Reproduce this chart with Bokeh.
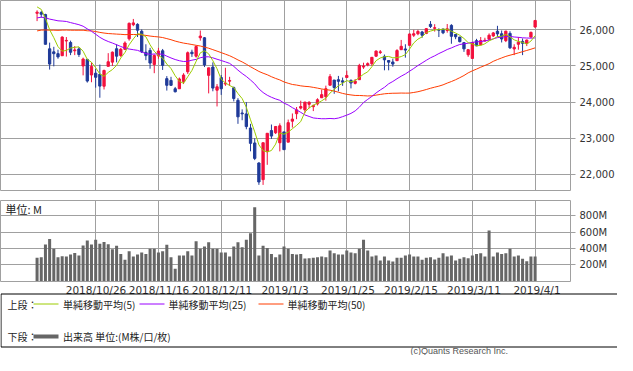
import numpy as np
from bokeh.plotting import figure
from bokeh.layouts import column
from bokeh.models import ColumnDataSource, Range1d, FixedTicker, NumeralTickFormatter, PrintfTickFormatter
from bokeh.core.properties import value
from bokeh.embed import file_html
from bokeh.resources import INLINE

# ---------------- data (daily candles, 2018/10/8 .. 2019/4/1) ----------------
opens = [26456, 26477, 26422, 25474, 25390, 25340, 25283, 25690, 25650, 25420,
         25470, 25000, 25180, 24750, 24800, 24770, 24440, 24990, 25106, 25476,
         25290, 25460, 25750, 26140, 26150, 25960, 25380, 25430, 25040, 25280,
         25420, 24650, 24600, 24370, 24370, 24570, 24840, 25380, 25270, 25780,
         25780, 24740, 24970, 24330, 24680, 24500, 24580, 24400, 24050, 23700,
         23675, 23285, 22871, 22317, 21857, 22629, 23213, 23153, 22877, 23177,
         22894, 23474, 23680, 23835, 23787, 23940, 23875, 23950, 24121, 24150,
         24467, 24611, 24620, 24590, 24680, 24600, 24520, 24620, 24970, 25025,
         25060, 25270, 25371, 25266, 25150, 25110, 25146, 25450, 25470, 25570,
         25850, 25890, 25940, 25900, 26150, 26040, 26010, 26020, 25980, 26122,
         25870, 25800, 25645, 25310, 25208, 25700, 25590, 25690, 25740, 25830,
         25960, 25890, 25700, 25900, 25470, 25600, 25680, 25620, 25800, 26076]
highs = [26539, 26522, 26443, 25645, 25530, 25450, 25820, 25800, 25700, 25550,
         25520, 25230, 25200, 25100, 24916, 25040, 24900, 25354, 25400, 25600,
         25500, 25680, 26200, 26300, 26180, 26010, 25600, 25500, 25320, 25500,
         25470, 24720, 24700, 24420, 24680, 24800, 25400, 25450, 25560, 25980,
         25800, 24950, 25100, 24500, 24750, 24950, 24700, 24430, 24110, 23800,
         24000, 23400, 23000, 22339, 22879, 23139, 23381, 23333, 23413, 23177,
         23518, 23687, 23865, 24040, 24002, 24025, 23928, 24107, 24348, 24456,
         24775, 24611, 24725, 24680, 24870, 24630, 24640, 25060, 25090, 25100,
         25240, 25430, 25440, 25316, 25160, 25200, 25465, 25720, 25600, 25900,
         26000, 26000, 25970, 26050, 26241, 26155, 26040, 26030, 26160, 26155,
         25880, 25800, 25650, 25460, 25660, 25750, 25800, 25780, 25900, 25940,
         26110, 25980, 25970, 25960, 25600, 25800, 25760, 25730, 25950, 26260]
lows = [26240, 26340, 25598, 24900, 24990, 25200, 25283, 25260, 25300, 25300,
        25250, 24740, 24540, 24550, 24400, 24122, 24350, 24990, 25000, 25100,
        25250, 25440, 25700, 26100, 25800, 25360, 25160, 24924, 24800, 25200,
        24890, 24320, 24450, 24270, 24370, 24500, 24780, 25250, 25230, 25700,
        24970, 24242, 24300, 23881, 24200, 24450, 24450, 24020, 23400, 23500,
        23250, 22640, 22397, 21713, 21712, 22267, 22982, 23118, 22638, 22686,
        22894, 23296, 23529, 23798, 23697, 23830, 23752, 23908, 24121, 24040,
        24467, 24231, 24300, 24450, 24680, 24380, 24490, 24620, 24920, 24990,
        25000, 25250, 25330, 24880, 24880, 24980, 25146, 25443, 25230, 25570,
        25800, 25850, 25780, 25880, 26050, 25950, 25800, 25880, 25920, 25614,
        25740, 25650, 25390, 25252, 25208, 25550, 25570, 25680, 25700, 25800,
        25800, 25650, 25660, 25470, 25300, 25450, 25300, 25550, 25780, 26060]
closes = [26487, 26431, 25599, 25053, 25340, 25251, 25798, 25707, 25379, 25444,
          25317, 25191, 24583, 24985, 24688, 24443, 24875, 25116, 25381, 25271,
          25462, 25635, 26180, 26191, 25989, 25387, 25286, 25080, 25289, 25413,
          25017, 24466, 24465, 24286, 24640, 24749, 25366, 25339, 25538, 25826,
          25027, 24948, 24389, 24423, 24370, 24527, 24597, 24101, 23593, 23676,
          23324, 22860, 22445, 21792, 22878, 23139, 23062, 23327, 23346, 22686,
          23433, 23531, 23787, 23879, 24002, 23996, 23910, 24066, 24207, 24370,
          24706, 24404, 24576, 24553, 24737, 24528, 24580, 25015, 25000, 25064,
          25239, 25412, 25390, 25170, 25106, 25053, 25426, 25543, 25439, 25883,
          25891, 25954, 25851, 26032, 26092, 26058, 25985, 25916, 26026, 25820,
          25807, 25673, 25473, 25450, 25651, 25555, 25703, 25710, 25849, 25914,
          25887, 25746, 25963, 25502, 25517, 25658, 25626, 25717, 25929, 26258]
volumes_m = [285, 292, 448, 517, 395, 292, 305, 300, 325, 345,
             313, 436, 497, 448, 505, 456, 478, 452, 390, 433,
             333, 260, 366, 300, 325, 350, 333, 395, 395, 350,
             366, 444, 292, 150, 313, 313, 366, 313, 489, 395,
             425, 476, 395, 395, 350, 350, 300, 425, 476, 415,
             507, 587, 905, 313, 433, 405, 333, 292, 325, 425,
             395, 333, 325, 333, 275, 280, 285, 292, 300, 292,
             374, 341, 325, 325, 374, 350, 341, 395, 505, 374,
             300, 313, 252, 300, 252, 239, 285, 285, 313, 325,
             300, 300, 260, 285, 292, 264, 285, 341, 300, 313,
             252, 272, 292, 280, 313, 333, 341, 300, 620, 300,
             350, 333, 341, 395, 300, 313, 272, 243, 300, 300]
# moving-average values at the left edge of the chart (before a full window is visible)
ma5_early = [26633, 26564, 26318, 26003]
ma25_early = [26329, 26348, 26333, 26296, 26273, 26248, 26241, 26230, 26199, 26171,
              26141, 26099, 26026, 25959, 25877, 25792, 25727, 25676, 25634, 25587,
              25539, 25494, 25468, 25450]
ma50_early = [25969, 25991, 25995, 25989, 25990, 25985, 25991, 25993, 25989, 25988,
              25988, 25988, 25973, 25970, 25952, 25928, 25910, 25896, 25889, 25881,
              25875, 25866, 25869, 25870, 25870, 25859, 25845, 25827, 25813, 25803,
              25786, 25756, 25726, 25688, 25658, 25632, 25614, 25593, 25571, 25552,
              25521, 25491, 25451, 25410, 25369, 25326, 25283, 25228, 25167]

tick_idx = [14, 29, 44, 59, 74, 89, 104, 119]
tick_labels = ["2018/10/26", "2018/11/16", "2018/12/11", "2019/1/3",
               "2019/1/25", "2019/2/15", "2019/3/11", "2019/4/1"]
price_ticks = [22000, 23000, 24000, 25000, 26000]
volume_ticks = [200, 400, 600, 800]

# ---------------- styling ----------------
RED = "#f2113d"
BLUE = "#1f3a98"
C_MA5 = "#9ccc00"
C_MA25 = "#9a00ff"
C_MA50 = "#ff3c00"
GRID = "#a0a0a0"
VOL = "#666666"
AX_FONT = "DejaVu Sans"
JP_FONT = "Noto Sans CJK JP"

n = len(closes)
idx = np.arange(n)
o = np.array(opens, float)
c = np.array(closes, float)


def sma(arr, w, early):
    out = list(early)
    for i in range(len(early), len(arr)):
        out.append(arr[i - w + 1:i + 1].mean())
    return out


ma5 = sma(c, 5, ma5_early)
ma25 = sma(c, 25, ma25_early)
ma50 = sma(c, 50, ma50_early)

colors = [RED if cl >= op else BLUE for op, cl in zip(opens, closes)]
src = ColumnDataSource(dict(x=idx, top=np.maximum(o, c), bottom=np.minimum(o, c),
                            high=highs, low=lows, color=colors))
vsrc = ColumnDataSource(dict(x=idx, vol=volumes_m))

xr = Range1d(-8.738, 127.452)


def style_right_axis(ax, ticks, formatter):
    ax.ticker = FixedTicker(ticks=ticks)
    ax.formatter = formatter
    ax.axis_line_color = None
    ax.major_tick_out = 5
    ax.major_tick_in = 0
    ax.major_tick_line_color = GRID
    ax.minor_tick_line_color = None
    ax.major_label_standoff = 4
    ax.major_label_text_font = AX_FONT
    ax.major_label_text_font_size = "10px"
    ax.major_label_text_color = "#333333"


# ---------------- price panel ----------------
p1 = figure(width=617, height=195, x_range=xr, y_range=Range1d(21557, 26810), title=None,
            output_backend="svg", toolbar_location=None,
            x_axis_location=None, y_axis_location="right",
            min_border_left=0, min_border_top=0, min_border_right=45, min_border_bottom=5)
p1.background_fill_color = "white"
p1.border_fill_color = "white"
p1.outline_line_color = GRID
p1.xgrid.ticker = FixedTicker(ticks=tick_idx)
p1.ygrid.ticker = FixedTicker(ticks=price_ticks)
p1.grid.grid_line_color = GRID
style_right_axis(p1.yaxis[0], price_ticks, NumeralTickFormatter(format="0,0"))

p1.segment(x0="x", y0="low", x1="x", y1="high", line_color="color", line_width=1, source=src)
p1.vbar(x="x", width=0.55, top="top", bottom="bottom", fill_color="color",
        line_color="color", line_width=1, source=src)
p1.line(idx, ma50, line_color=C_MA50, line_width=1)
p1.line(idx, ma25, line_color=C_MA25, line_width=1)
p1.line(idx, ma5, line_color=C_MA5, line_width=1)

# ---------------- volume panel ----------------
p2 = figure(width=617, height=87, x_range=xr, y_range=Range1d(-6, 988), title=None,
            output_backend="svg", toolbar_location=None,
            x_axis_location=None, y_axis_location="right",
            min_border_left=0, min_border_top=5, min_border_right=45, min_border_bottom=1)
p2.background_fill_color = "white"
p2.border_fill_color = "white"
p2.outline_line_color = GRID
p2.xgrid.ticker = FixedTicker(ticks=tick_idx)
p2.ygrid.ticker = FixedTicker(ticks=volume_ticks)
p2.grid.grid_line_color = GRID
style_right_axis(p2.yaxis[0], volume_ticks, PrintfTickFormatter(format="%dM"))
p2.vbar(x="x", width=0.72, top="vol", bottom=0, fill_color=VOL, line_color=None, source=vsrc)
p2.extra_x_ranges = {"px": Range1d(0, 572)}
p2.extra_y_ranges = {"px": Range1d(281, 200)}
p2.text(x=[5], y=[208.5], text=["単位: M"], x_range_name="px", y_range_name="px",
        text_font=value(JP_FONT), text_font_size="11px", text_color="#222222",
        text_align="left", text_baseline="middle")

# ---------------- date labels, legend, credit ----------------
p3 = figure(width=617, height=73, x_range=Range1d(0, 617), y_range=Range1d(355, 282), title=None,
            output_backend="svg", toolbar_location=None,
            x_axis_location=None, y_axis_location=None, min_border=0)
try:
    p3.frame_align = False
except Exception:
    pass
p3.grid.visible = False
p3.outline_line_color = None
p3.background_fill_color = "white"
p3.border_fill_color = "white"
p3.extra_x_ranges = {"idx": Range1d(-8.738, 138.167)}
p3.text(x=tick_idx, y=[289] * len(tick_idx), text=tick_labels, x_range_name="idx",
        text_font=value(AX_FONT), text_font_size="10.5px", text_color="#333333",
        text_align="center", text_baseline="middle")

p3.quad(left=[0.5], right=[640], top=[293.5], bottom=[346.5],
        fill_color=None, line_color="#000000", line_width=1)
p3.segment(x0=[33, 139, 258], y0=[303.5] * 3, x1=[58, 164, 283], y1=[303.5] * 3,
           line_color=[C_MA5, C_MA25, C_MA50], line_width=1)
p3.segment(x0=[33], y0=[336], x1=[58], y1=[336], line_color=VOL, line_width=4)
p3.text(x=[7, 62.5, 168, 287, 7, 62.5], y=[303.5, 303.5, 303.5, 303.5, 336, 336],
        text=["上段：", "単純移動平均(5)", "単純移動平均(25)", "単純移動平均(50)",
              "下段：", "出来高 単位:(M株/口/枚)"],
        text_font=value(JP_FONT), text_font_size="10px", text_color="#222222",
        text_align="left", text_baseline="middle")
p3.text(x=[410], y=[350.5], text=["(c)Quants Research Inc."],
        text_font=value("Liberation Sans"), text_font_size="9px", text_color="#555555",
        text_align="left", text_baseline="middle")

layout = column(p1, p2, p3, spacing=0)
open("out.html", "w").write(file_html(layout, INLINE))
